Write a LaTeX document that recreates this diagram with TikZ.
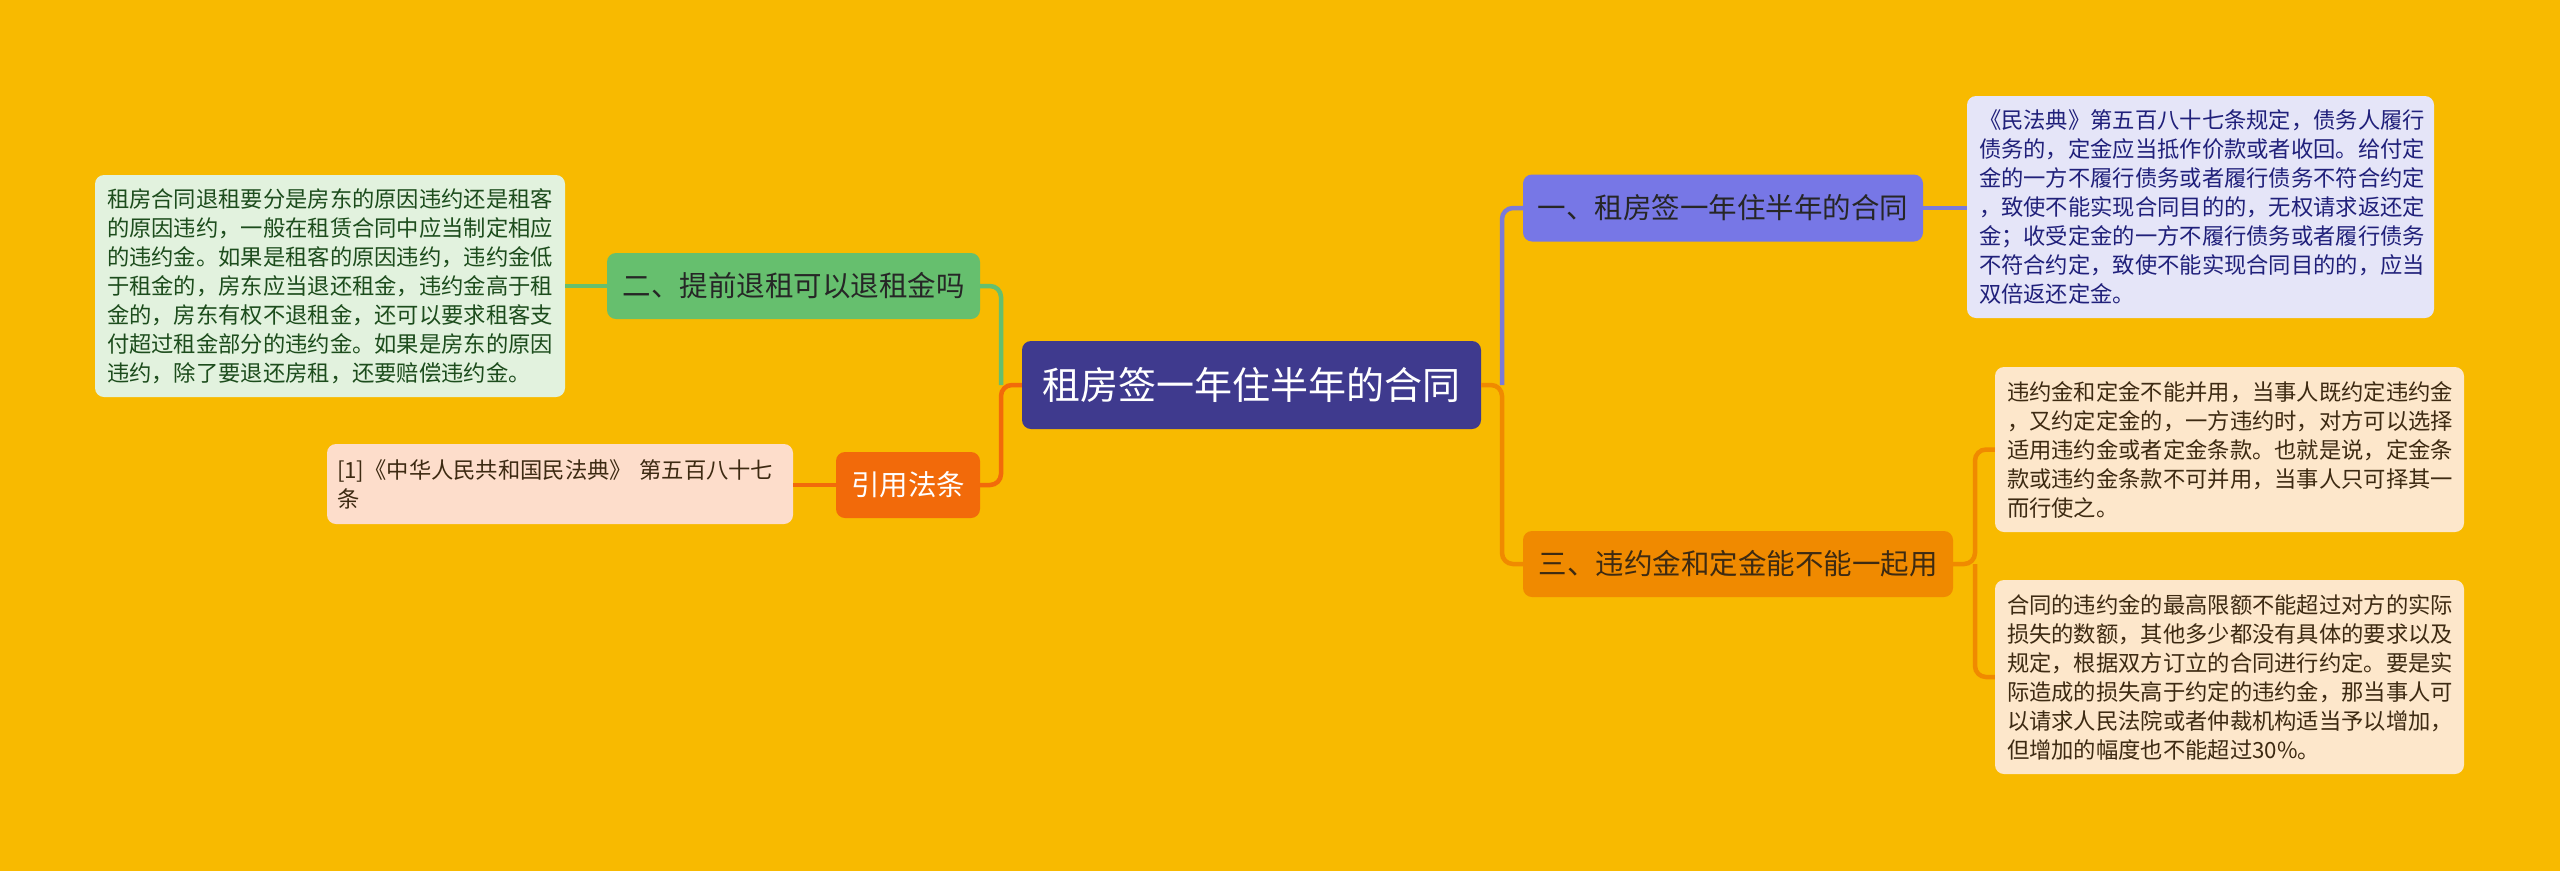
\documentclass[tikz,border=0pt]{standalone}
\usepackage{fontspec}
\setmainfont{Noto Sans CJK SC}
\definecolor{bg}{HTML}{F8BA00}
\definecolor{cen}{HTML}{3F3A8E}
\definecolor{pur}{HTML}{7777E6}
\definecolor{purline}{HTML}{7B7BD8}
\definecolor{purlt}{HTML}{E5E5F8}
\definecolor{purtx}{HTML}{20207A}
\definecolor{org}{HTML}{F08A00}
\definecolor{orglt}{HTML}{FDE7CB}
\definecolor{orgtx}{HTML}{3D2A12}
\definecolor{grn}{HTML}{66BF6E}
\definecolor{grnlt}{HTML}{E2F2DE}
\definecolor{grntx}{HTML}{1C4C1C}
\definecolor{red}{HTML}{F26A0A}
\definecolor{redlt}{HTML}{FDDDCB}
\begin{document}
\begin{tikzpicture}[x=1pt,y=-1pt,
  box/.style={rounded corners=9pt,inner sep=0pt,align=center},
  detail/.style={rounded corners=9pt,inner sep=12pt,align=left,
    font=\fontsize{22.3}{29}\selectfont},
  sub/.style={box,font=\fontsize{28.5}{34}\selectfont},
  conn/.style={line width=4.5pt,rounded corners=11pt}]
\useasboundingbox (0,0) rectangle (2560,871);
\fill[bg] (0,0) rectangle (2560,871);
% nodes
\node[box,fill=cen,text=white,minimum width=459pt,minimum height=88pt,
  font=\fontsize{38}{44}\selectfont] (c) at (1251.5,385) {租房签一年住半年的合同};
\node[sub,fill=pur,text=black!85,minimum width=400pt,minimum height=67pt] (n1) at (1723,208) {一、租房签一年住半年的合同};
\node[sub,fill=org,text=orgtx,minimum width=430pt,minimum height=66pt] (n3) at (1738,564) {三、违约金和定金能不能一起用};
\node[sub,fill=grn,text=black!85,minimum width=373pt,minimum height=66pt] (n2) at (793.5,286) {二、提前退租可以退租金吗};
\node[sub,fill=red,text=white,minimum width=144pt,minimum height=66pt] (nr) at (908,485) {引用法条};
\node[detail,fill=purlt,text=purtx,text width=443pt,minimum height=222pt] (d1) at (2200.5,207) {《民法典》第五百八十七条规定，债务人履行\\债务的，定金应当抵作价款或者收回。给付定\\金的一方不履行债务或者履行债务不符合约定\\，致使不能实现合同目的的，无权请求返还定\\金；收受定金的一方不履行债务或者履行债务\\不符合约定，致使不能实现合同目的的，应当\\双倍返还定金。};
\node[detail,fill=orglt,text=orgtx,text width=445pt,minimum height=165pt] (d3a) at (2229.5,449.5) {违约金和定金不能并用，当事人既约定违约金\\，又约定定金的，一方违约时，对方可以选择\\适用违约金或者定金条款。也就是说，定金条\\款或违约金条款不可并用，当事人只可择其一\\而行使之。};
\node[detail,fill=orglt,text=orgtx,text width=445pt,minimum height=194pt] (d3b) at (2229.5,677) {合同的违约金的最高限额不能超过对方的实际\\损失的数额，其他多少都没有具体的要求以及\\规定，根据双方订立的合同进行约定。要是实\\际造成的损失高于约定的违约金，那当事人可\\以请求人民法院或者仲裁机构适当予以增加，\\但增加的幅度也不能超过30\%。};
\node[detail,fill=grnlt,text=grntx,text width=446pt,minimum height=222pt] (dl) at (330,286) {租房合同退租要分是房东的原因违约还是租客\\的原因违约，一般在租赁合同中应当制定相应\\的违约金。如果是租客的原因违约，违约金低\\于租金的，房东应当退还租金，违约金高于租\\金的，房东有权不退租金，还可以要求租客支\\付超过租金部分的违约金。如果是房东的原因\\违约，除了要退还房租，还要赔偿违约金。};
\node[detail,inner sep=10pt,fill=redlt,text=orgtx,text width=446pt,minimum height=80pt] (dr) at (560,484) {\mbox{[1]《中华人民共和国民法典》\ 第五百八十七}\\条};
% junctions
\coordinate (jR) at (1502,385);
\coordinate (j3) at (1975,564);
\coordinate (jL) at (1001,385);
% connectors right
\draw[conn,purline] (jR) |- (n1.west);
\draw[conn,org] (c.east) -- (jR) |- (n3.west);
\draw[conn,purline] (n1.east) -- (n1.east -| d1.west);
\draw[conn,org] (n3.east) -- (j3) |- (d3a.west);
\draw[conn,org] (j3) |- (d3b.west);
% connectors left
\draw[conn,grn] (jL) |- (n2.east);
\draw[conn,red] (c.west) -- (jL) |- (nr.east);
\draw[conn,grn] (n2.west) -- (dl.east);
\draw[conn,red] (nr.west) -- (nr.west -| dr.east);
\end{tikzpicture}
\end{document}
